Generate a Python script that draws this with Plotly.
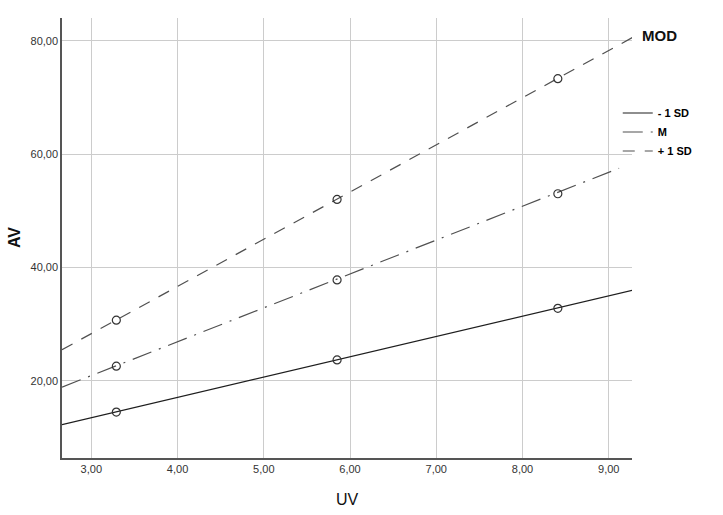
import plotly.graph_objects as go

# moderator levels and observed points
mod_levels = ["- 1 SD", "M", "+ 1 SD"]
uv_points = [3.29, 5.85, 8.41]
av_low = [14.5, 23.7, 32.8]
av_mid = [22.6, 37.8, 53.0]
av_high = [30.7, 52.0, 73.3]

# fit line ends
line_x_low = [2.66, 9.28]
line_y_low = [12.3, 36.0]
line_x_mid = [2.66, 9.12]
line_y_mid = [18.9, 57.5]
line_x_high = [2.66, 9.28]
line_y_high = [25.5, 80.6]

x_ticks = [3, 4, 5, 6, 7, 8, 9]
y_ticks = [20, 40, 60, 80]

styles = [
    dict(color="#1e1e1e", dash="solid"),
    dict(color="#505050", dash="20px,8px,2px,8px"),
    dict(color="#505050", dash="12px,10px"),
]
points = [av_low, av_mid, av_high]
lines = [(line_x_low, line_y_low), (line_x_mid, line_y_mid), (line_x_high, line_y_high)]

fig = go.Figure()

for name, st, pts, (lx, ly) in zip(mod_levels, styles, points, lines):
    fig.add_trace(go.Scatter(
        x=lx, y=ly, mode="lines", name=name,
        line=dict(color=st["color"], dash=st["dash"], width=1.2),
        hoverinfo="skip",
    ))
    fig.add_trace(go.Scatter(
        x=uv_points, y=pts, mode="markers", showlegend=False,
        marker=dict(symbol="circle-open", size=8, color="#333333",
                    line=dict(width=1.2)),
    ))

# legend title sits well above the entries
fig.add_annotation(
    x=1.014, y=0.984, xref="paper", yref="paper", xanchor="left",
    text="<b>MOD</b>", showarrow=False,
    font=dict(family="Liberation Sans", size=15, color="#111111"),
)
# axis titles placed by hand
fig.add_annotation(
    x=-0.084, y=0.5, xref="paper", yref="paper", xanchor="center",
    text="<b>AV</b>", textangle=-90, showarrow=False,
    font=dict(family="Liberation Sans", size=16, color="#111111"),
)
fig.add_annotation(
    x=0.5, y=-0.095, xref="paper", yref="paper", yanchor="middle",
    text="UV", showarrow=False,
    font=dict(family="Liberation Sans", size=16, color="#111111"),
)

fig.update_layout(
    width=723, height=515,
    margin=dict(l=62, r=91, t=18, b=57),
    plot_bgcolor="white", paper_bgcolor="white",
    font=dict(family="Liberation Sans", size=11, color="#333333"),
    legend=dict(
        x=0.975, y=0.817, xanchor="left", yanchor="top",
        font=dict(family="Liberation Sans", size=11, color="#000000", weight="bold"),
        itemwidth=30, tracegroupgap=0, bgcolor="rgba(0,0,0,0)",
    ),
    xaxis=dict(
        range=[2.66, 9.27], tickvals=x_ticks,
        ticktext=["%d,00" % v for v in x_ticks],
        showgrid=True, gridcolor="#cccccc", gridwidth=1,
        showline=True, linecolor="#555555", linewidth=1.5,
        zeroline=False, ticks="", automargin=False,
    ),
    yaxis=dict(
        range=[6.4, 84.0], tickvals=y_ticks,
        ticktext=["%d,00" % v for v in y_ticks],
        showgrid=True, gridcolor="#cccccc", gridwidth=1,
        showline=True, linecolor="#555555", linewidth=1.5,
        zeroline=False, ticks="", automargin=False,
    ),
)

# drop the browser's default 8px body margin so the figure fills the window
fig.write_html("out.html", config={"displayModeBar": False},
               post_script="document.body.style.margin='0';")
